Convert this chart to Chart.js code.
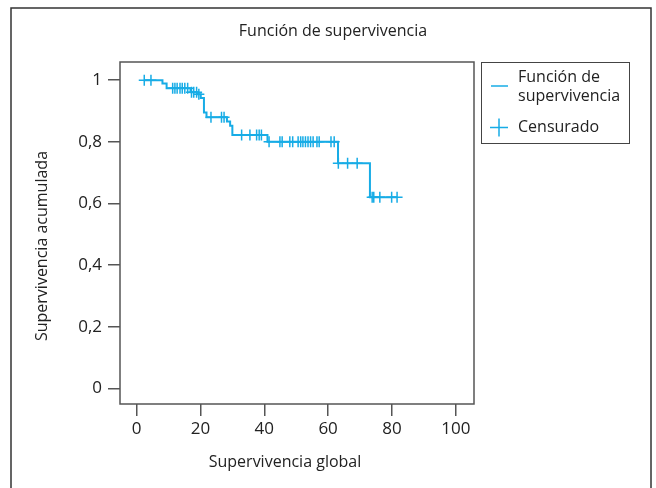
<!DOCTYPE html>
<html>
<head>
<meta charset="utf-8">
<title>Función de supervivencia</title>
<script src="https://cdn.jsdelivr.net/npm/chart.js"></script>
<style>
  html, body { margin: 0; padding: 0; background: #fff; }
</style>
</head>
<body>
<canvas id="survChart" width="656" height="488"></canvas>
<script>
// Kaplan-Meier curve: time of each step and the survival after it
const stepTimes = [2.4, 8.1, 9.4, 16.9, 19.0, 20.1, 21.1, 21.9, 28.3, 29.3, 30.0, 41.0, 63.1, 73.1, 81.6];
const stepSurv  = [1.0, 0.989, 0.974, 0.961, 0.954, 0.942, 0.895, 0.880, 0.866, 0.852, 0.822, 0.80, 0.73, 0.62, 0.62];

// censored cases
const censorTimes = [2.4, 4.5, 11.3, 12.0, 12.7, 13.6, 14.3, 15.1, 16.0, 17.2, 17.9, 18.8, 19.5,
  23.3, 26.6, 27.4, 32.9, 35.5, 37.6, 38.4, 39.1,
  41.5, 44.9, 45.6, 48.0, 48.9, 50.6, 51.4, 52.1, 52.9, 53.7, 54.5, 55.3, 56.5, 57.2, 60.9, 61.9,
  63.2, 66.1, 69.1, 73.8, 74.3, 76.2, 79.9, 81.6];
const censorSurv = [1.0, 1.0, 0.974, 0.974, 0.974, 0.974, 0.974, 0.974, 0.974, 0.961, 0.961, 0.961, 0.954,
  0.880, 0.880, 0.880, 0.822, 0.822, 0.822, 0.822, 0.822,
  0.80, 0.80, 0.80, 0.80, 0.80, 0.80, 0.80, 0.80, 0.80, 0.80, 0.80, 0.80, 0.80, 0.80, 0.80, 0.80,
  0.73, 0.73, 0.73, 0.62, 0.62, 0.62, 0.62, 0.62];

const xTickValues = [0, 20, 40, 60, 80, 100];
const yTickValues = [0, 0.2, 0.4, 0.6, 0.8, 1];
const yTickLabels = ["0", "0,2", "0,4", "0,6", "0,8", "1"];

const blue = "#17ace6";
const ink = "#222";
const fontFamily = "'Open Sans', 'Noto Sans', sans-serif";

// frame, titles and the boxed legend
const decorPlugin = {
  id: 'decor',
  afterDraw: function(chart) {
    var ctx = chart.ctx;
    var a = chart.chartArea;
    ctx.save();

    // outer frame (open at the bottom, as in the picture)
    ctx.strokeStyle = "#333";
    ctx.lineWidth = 1.5;
    ctx.strokeRect(11, 8, 640, 500);

    // plot frame
    ctx.strokeStyle = "#555";
    ctx.lineWidth = 1.5;
    ctx.strokeRect(a.left, a.top, a.right - a.left, a.bottom - a.top);

    ctx.fillStyle = ink;
    ctx.textAlign = "center";
    ctx.textBaseline = "middle";
    ctx.font = "16px " + fontFamily;
    ctx.fillText("Función de supervivencia", 333, 31);
    ctx.fillText("Supervivencia global", 285, 462);

    ctx.save();
    ctx.translate(42, 246);
    ctx.rotate(-Math.PI / 2);
    ctx.fillText("Supervivencia acumulada", 0, 0);
    ctx.restore();

    // legend
    ctx.strokeStyle = "#444";
    ctx.lineWidth = 1;
    ctx.strokeRect(481.5, 62.5, 148, 81);

    ctx.strokeStyle = blue;
    ctx.lineWidth = 1.5;
    ctx.beginPath();
    ctx.moveTo(491, 86);
    ctx.lineTo(508, 86);
    ctx.stroke();

    ctx.beginPath();
    ctx.moveTo(490, 127.5);
    ctx.lineTo(508, 127.5);
    ctx.moveTo(499, 118.5);
    ctx.lineTo(499, 136.5);
    ctx.stroke();

    ctx.textAlign = "left";
    ctx.fillStyle = ink;
    ctx.font = "16px " + fontFamily;
    ctx.fillText("Función de", 518, 77);
    ctx.fillText("supervivencia", 518, 96);
    ctx.fillText("Censurado", 518, 127);

    ctx.restore();
  }
};

new Chart("survChart", {
  type: "scatter",
  data: {
    datasets: [{
      label: "Función de supervivencia",
      data: stepTimes.map((t, i) => ({ x: t, y: stepSurv[i] })),
      showLine: true,
      stepped: true,
      borderColor: blue,
      borderWidth: 2,
      pointRadius: 0,
      fill: false
    }, {
      label: "Censurado",
      data: censorTimes.map((t, i) => ({ x: t, y: censorSurv[i] })),
      showLine: false,
      pointStyle: "cross",
      pointRadius: 5.5,
      pointBorderWidth: 1.5,
      borderColor: blue,
      backgroundColor: blue
    }]
  },
  options: {
    responsive: false,
    animation: false,
    layout: { padding: { top: 62, right: 182, left: 0, bottom: 0 } },
    plugins: {
      legend: { display: false },
      tooltip: { enabled: false }
    },
    scales: {
      x: {
        type: "linear",
        min: -5.2,
        max: 105.7,
        afterBuildTicks: function(scale) {
          scale.ticks = xTickValues.map(v => ({ value: v }));
        },
        afterFit: function(scale) { scale.height = 84; },
        border: { display: false },
        grid: { drawOnChartArea: false, tickLength: 12, color: "#555", lineWidth: 1.5 },
        ticks: { padding: 3, color: ink, font: { family: fontFamily, size: 17 } }
      },
      y: {
        min: -0.051,
        max: 1.059,
        afterBuildTicks: function(scale) {
          scale.ticks = yTickValues.map(v => ({ value: v }));
        },
        afterFit: function(scale) { scale.width = 120; },
        border: { display: false },
        grid: { drawOnChartArea: false, tickLength: 12, color: "#555", lineWidth: 1.5 },
        ticks: {
          padding: 6,
          color: ink,
          font: { family: fontFamily, size: 17 },
          callback: function(value) {
            return yTickLabels[yTickValues.indexOf(value)];
          }
        }
      }
    }
  },
  plugins: [decorPlugin]
});
</script>
</body>
</html>
